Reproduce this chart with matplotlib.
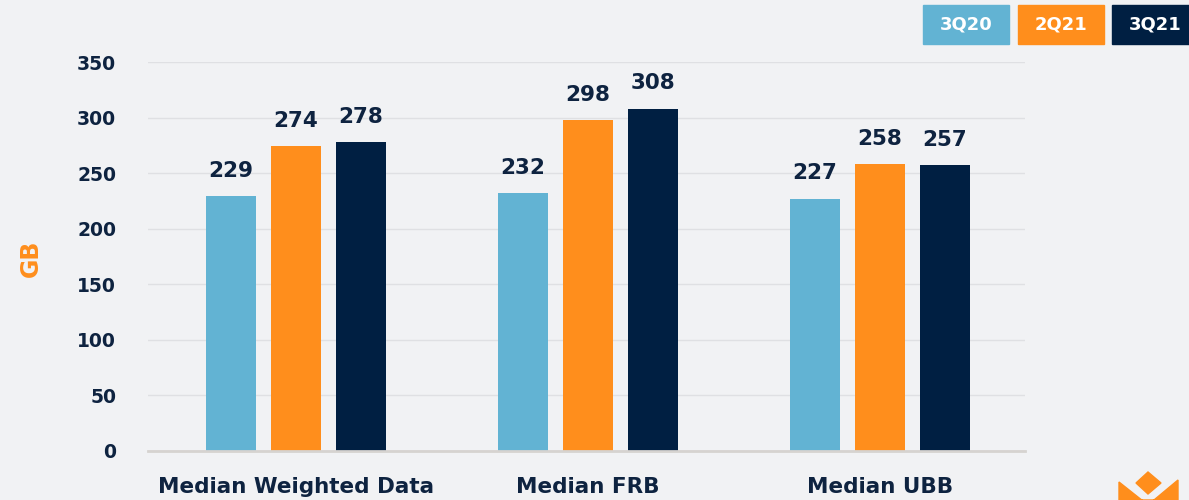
import matplotlib
matplotlib.use('Agg')
import matplotlib.pyplot as plt
from matplotlib.patches import Rectangle, Polygon
import numpy as np

categories = ['Median Weighted Data', 'Median FRB', 'Median UBB']
series = ['3Q20', '2Q21', '3Q21']
values = {
    '3Q20': [229, 232, 227],
    '2Q21': [274, 298, 258],
    '3Q21': [278, 308, 257],
}
yticks = [0, 50, 100, 150, 200, 250, 300, 350]

colors = {'3Q20': '#62b3d3', '2Q21': '#ff8e1c', '3Q21': '#001f42'}
navy = '#0e2340'
bg = '#f1f2f4'

plt.rcParams['font.family'] = ['DejaVu Sans']
plt.rcParams['font.weight'] = 'bold'

fig = plt.figure(figsize=(11.89, 5), dpi=100, facecolor=bg)
ax = fig.add_axes([0.1245, 0.098, 0.7375, 0.778], facecolor=bg)

x = np.arange(len(categories))
width = 0.171
step = 0.222
for i, s in enumerate(series):
    pos = x + (i - 1) * step
    bars = ax.bar(pos, values[s], width=width, color=colors[s], zorder=3)
    for b, v in zip(bars, values[s]):
        ax.annotate(str(v), (b.get_x() + b.get_width() / 2, v),
                    xytext=(0, 11), textcoords='offset points',
                    ha='center', va='bottom', fontsize=15.5,
                    fontweight='bold', color=navy)

ax.set_xlim(-0.507, 2.497)
ax.set_ylim(0, 350)
ax.set_yticks(yticks)
ax.set_yticklabels([str(t) for t in yticks], fontsize=13.5,
                   fontweight='bold', color=navy)
ax.set_xticks(x)
ax.set_xticklabels(categories, fontsize=15.5, fontweight='bold', color=navy)
ax.tick_params(axis='y', length=0, pad=23)
ax.tick_params(axis='x', length=0, pad=19)
ax.grid(axis='y', color='#dfe0e3', linewidth=1, zorder=0)
for sp in ['top', 'right', 'left']:
    ax.spines[sp].set_visible(False)
ax.spines['bottom'].set_color('#d6d3d0')
ax.spines['bottom'].set_linewidth(2)
ax.spines['bottom'].set_zorder(4)

fig.text(0.026, 0.484, 'GB', rotation=90, ha='center', va='center',
         fontsize=17, fontweight='bold', color='#ff8e1c')

# legend boxes at the top right
box_x = [923, 1018, 1112]
for s, bx in zip(series, box_x):
    fig.patches.append(Rectangle((bx / 1189, 1 - 44 / 500), 86 / 1189, 39 / 500,
                                 transform=fig.transFigure, color=colors[s],
                                 zorder=1))
    fig.text((bx + 43) / 1189, 1 - 25 / 500, s, ha='center', va='center',
             fontsize=13, fontweight='bold', color='white')

# small logo mark bottom right
def fp(pts):
    return [(px / 1189, 1 - py / 500) for px, py in pts]

fig.patches.append(Polygon(fp([(1136, 483), (1148, 472), (1161, 483), (1148, 494)]),
                           closed=True, transform=fig.transFigure, color='#ff8e1c'))
fig.patches.append(Polygon(fp([(1119, 482), (1148, 505), (1178, 480), (1178, 500), (1119, 500)]),
                           closed=True, transform=fig.transFigure, color='#ff8e1c'))

fig.savefig('out.png', dpi=100, facecolor=bg)
